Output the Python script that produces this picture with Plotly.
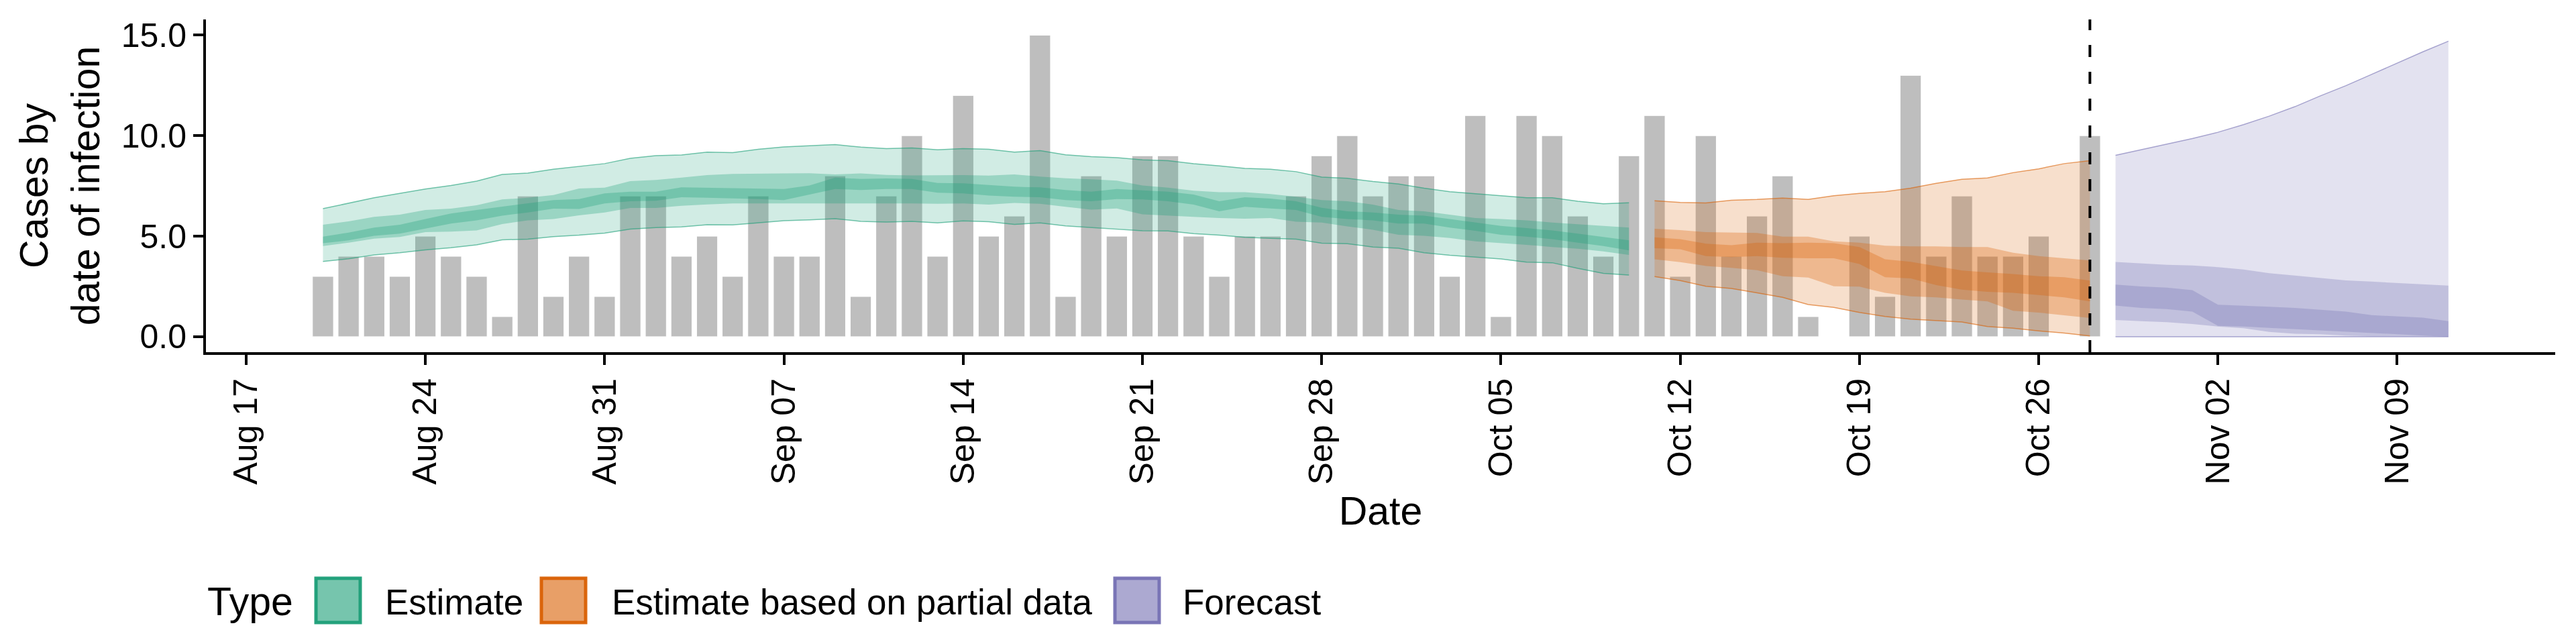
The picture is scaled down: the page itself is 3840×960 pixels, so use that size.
import pandas as pd
import plotly.graph_objects as go

# observed cases by date of infection (Aug 20 - Oct 28)
bar_dates = pd.date_range("2020-08-20", "2020-10-28", freq="D")
cases = [3, 4, 4, 3, 5, 4, 3, 1, 7, 2, 4, 2,
         7, 7, 4, 5, 3, 7, 4, 4, 8, 2, 7, 10, 4, 12, 5, 6, 15, 2,
         8, 5, 9, 9, 5, 3, 5, 5, 7, 9, 10, 7,
         8, 8, 3, 11, 1, 11, 10, 6, 4, 9, 11, 3, 10, 4, 6, 8, 1, 0,
         5, 2, 13, 4, 7, 4, 4, 5, 0, 10]

# Estimate (Aug 20 - Oct 10)
est_dates = pd.date_range("2020-08-20", "2020-10-10", freq="D")
est_hi90 = [6.37, 6.65, 6.91, 7.13, 7.35, 7.52, 7.74, 8.07, 8.14, 8.33, 8.46, 8.61, 8.87, 9.01, 9.04, 9.18,
            9.16, 9.32, 9.44, 9.50, 9.56, 9.43, 9.36, 9.39, 9.30, 9.36, 9.32, 9.18, 9.26, 9.05, 8.96, 8.91,
            8.80, 8.76, 8.61, 8.50, 8.37, 8.33, 8.21, 7.94, 7.88, 7.72, 7.60, 7.39, 7.21, 7.11, 7.02, 6.91,
            6.91, 6.74, 6.61, 6.66]
est_lo90 = [3.74, 3.88, 4.07, 4.18, 4.32, 4.43, 4.57, 4.82, 4.85, 4.98, 5.05, 5.15, 5.35, 5.43, 5.46, 5.57,
            5.56, 5.66, 5.77, 5.81, 5.87, 5.74, 5.70, 5.74, 5.66, 5.76, 5.72, 5.59, 5.66, 5.51, 5.43, 5.37,
            5.27, 5.26, 5.13, 5.05, 4.94, 4.89, 4.85, 4.65, 4.63, 4.46, 4.40, 4.18, 4.05, 3.96, 3.87, 3.71,
            3.68, 3.40, 3.15, 3.07]
est_hi50 = [5.57, 5.74, 5.96, 6.07, 6.30, 6.37, 6.54, 6.83, 6.91, 7.05, 7.37, 7.41, 7.74, 7.80, 7.91, 8.04,
            8.10, 8.10, 8.12, 8.13, 8.07, 8.12, 8.05, 8.02, 8.02, 8.04, 8.01, 8.07, 7.96, 7.88, 7.83, 7.76,
            7.52, 7.41, 7.26, 7.19, 7.19, 7.10, 6.96, 6.80, 6.74, 6.57, 6.30, 6.24, 6.07, 5.90, 5.85, 5.79,
            5.68, 5.60, 5.51, 5.43]
est_lo50 = [4.51, 4.68, 4.88, 4.96, 5.20, 5.23, 5.29, 5.60, 5.79, 5.85, 6.04, 6.18, 6.40, 6.40, 6.51, 6.58,
            6.63, 6.65, 6.63, 6.63, 6.63, 6.63, 6.63, 6.63, 6.61, 6.63, 6.57, 6.65, 6.61, 6.46, 6.32, 6.38,
            6.09, 6.02, 5.96, 5.90, 5.87, 5.90, 5.72, 5.68, 5.49, 5.32, 5.07, 5.02, 4.91, 4.74, 4.65, 4.57,
            4.46, 4.38, 4.24, 4.07]
est_hi20 = [4.98, 5.18, 5.43, 5.57, 5.85, 6.13, 6.30, 6.46, 6.63, 6.80, 6.85, 7.13, 7.21, 7.21, 7.43, 7.41,
            7.37, 7.35, 7.35, 7.52, 7.91, 7.85, 7.87, 7.85, 7.65, 7.63, 7.54, 7.46, 7.43, 7.30, 7.21, 7.35,
            7.28, 7.21, 7.07, 6.74, 6.94, 6.87, 6.74, 6.41, 6.24, 6.18, 6.07, 6.02, 5.85, 5.68, 5.51, 5.40,
            5.29, 5.13, 4.96, 4.79]
est_lo20 = [4.65, 4.79, 5.02, 5.13, 5.38, 5.63, 5.79, 6.02, 6.18, 6.37, 6.35, 6.63, 6.74, 6.76, 6.94, 6.91,
            6.87, 6.85, 6.80, 7.07, 7.35, 7.30, 7.35, 7.35, 7.16, 7.13, 7.02, 6.96, 6.94, 6.80, 6.74, 6.85,
            6.83, 6.74, 6.57, 6.24, 6.46, 6.38, 6.30, 5.96, 5.85, 5.79, 5.63, 5.63, 5.43, 5.27, 5.07, 4.98,
            4.85, 4.68, 4.51, 4.29]

# Estimate based on partial data (Oct 11 - Oct 28)
part_dates = pd.date_range("2020-10-11", "2020-10-28", freq="D")
part_hi90 = [6.76, 6.68, 6.65, 6.79, 6.83, 6.90, 6.83, 7.01, 7.13, 7.21, 7.39, 7.63, 7.83, 7.90, 8.16, 8.35, 8.61, 8.76]
part_lo90 = [2.99, 2.79, 2.51, 2.40, 2.18, 1.96, 1.60, 1.46, 1.21, 1.01, 0.87, 0.81, 0.73, 0.51, 0.42, 0.29, 0.18, 0.04]
part_hi50 = [5.37, 5.30, 5.20, 5.18, 5.16, 4.98, 4.98, 4.74, 4.68, 4.53, 4.49, 4.49, 4.46, 4.46, 4.18, 4.01, 3.90, 3.79]
part_lo50 = [3.85, 3.71, 3.52, 3.43, 3.31, 3.01, 2.94, 2.51, 2.49, 2.18, 2.01, 1.96, 1.85, 1.76, 1.29, 1.20, 1.07, 0.93]
part_hi20 = [4.94, 4.85, 4.63, 4.55, 4.68, 4.65, 4.68, 4.65, 4.46, 3.85, 3.73, 3.51, 3.29, 3.20, 3.12, 3.01, 2.96, 2.79]
part_lo20 = [4.40, 4.35, 4.01, 3.96, 4.01, 3.93, 3.90, 3.90, 3.62, 2.96, 2.90, 2.57, 2.34, 2.23, 2.18, 2.07, 1.96, 1.76]

# Forecast (Oct 29 - Nov 11)
fc_dates = pd.date_range("2020-10-29", "2020-11-11", freq="D")
fc_hi90 = [9.02, 9.30, 9.59, 9.86, 10.17, 10.55, 10.97, 11.44, 11.98, 12.49, 13.05, 13.62, 14.17, 14.70]
fc_lo90 = [0.0] * 14
fc_hi50 = [3.72, 3.64, 3.58, 3.54, 3.46, 3.34, 3.16, 3.04, 2.92, 2.80, 2.74, 2.68, 2.62, 2.54]
fc_lo50 = [0.83, 0.77, 0.72, 0.63, 0.51, 0.42, 0.24, 0.15, 0.12, 0.06, 0.02, 0.02, 0.02, 0.02]
fc_hi20 = [2.59, 2.50, 2.44, 2.32, 1.59, 1.55, 1.49, 1.43, 1.35, 1.25, 1.07, 1.01, 0.95, 0.77]
fc_lo20 = [1.55, 1.43, 1.37, 1.25, 0.54, 0.51, 0.44, 0.36, 0.30, 0.24, 0.18, 0.12, 0.06, 0.00]

types = ["Estimate", "Estimate based on partial data", "Forecast"]
colors = {"Estimate": (27, 158, 119),
          "Estimate based on partial data": (217, 95, 2),
          "Forecast": (117, 112, 179)}

FONT = "Liberation Sans, Arial, sans-serif"
DAY = 86400000


def rgba(c, a):
    return "rgba(%d,%d,%d,%s)" % (c[0], c[1], c[2], a)


def add_band(fig, dates, bands, col):
    d = list(dates)
    # bands: list of (lo, hi, alpha), outermost first
    for i, (lo, hi, a) in enumerate(bands):
        fig.add_trace(go.Scatter(x=d + d[::-1], y=list(hi) + list(lo)[::-1],
                                 fill="toself", fillcolor=rgba(col, a),
                                 mode="lines", line=dict(width=0),
                                 hoverinfo="skip", showlegend=False))
        if i == 0:
            for edge in (hi, lo):
                fig.add_trace(go.Scatter(x=d, y=edge, mode="lines",
                                         line=dict(color=rgba(col, 0.6), width=1.5),
                                         hoverinfo="skip", showlegend=False))


fig = go.Figure()

fig.add_trace(go.Bar(x=bar_dates, y=cases, width=0.82 * DAY,
                     marker=dict(color="#bebebe", line=dict(color="white", width=1)),
                     showlegend=False))

add_band(fig, est_dates, [(est_lo90, est_hi90, 0.2), (est_lo50, est_hi50, 0.3), (est_lo20, est_hi20, 0.3)],
         colors["Estimate"])
add_band(fig, part_dates, [(part_lo90, part_hi90, 0.2), (part_lo50, part_hi50, 0.3), (part_lo20, part_hi20, 0.3)],
         colors["Estimate based on partial data"])
add_band(fig, fc_dates, [(fc_lo90, fc_hi90, 0.2), (fc_lo50, fc_hi50, 0.3), (fc_lo20, fc_hi20, 0.3)],
         colors["Forecast"])

# page pixels of the panel; the html body adds an 8px offset
OFF = 8
L, R, T, B = 307, 3809, 29, 525
W, H = R - L, B - T


def px(x):
    return (x - L) / W


def py(y):
    return (B - y) / H


shapes = [dict(type="line", xref="x", yref="paper", x0="2020-10-28", x1="2020-10-28", y0=0, y1=1,
               line=dict(color="black", width=4, dash="18px,22px"))]
annotations = [dict(text="Type", x=px(307), y=py(897), xref="paper", yref="paper",
                    xanchor="left", yanchor="middle", showarrow=False,
                    font=dict(family=FONT, size=59, color="black"))]

key_left = [471, 807, 1662]
label_left = [572, 910, 1761]
for t, kx, lx in zip(types, key_left, label_left):
    c = colors[t]
    shapes.append(dict(type="rect", xref="paper", yref="paper",
                       x0=px(kx), x1=px(kx + 66), y0=py(928), y1=py(862),
                       fillcolor=rgba(c, 0.6), line=dict(color=rgba(c, 0.95), width=5)))
    annotations.append(dict(text=t, x=px(lx), y=py(897), xref="paper", yref="paper",
                            xanchor="left", yanchor="middle", showarrow=False,
                            font=dict(family=FONT, size=53, color="black")))

x_start = pd.Timestamp("2020-08-17") - pd.Timedelta(days=1.57)
x_end = pd.Timestamp("2020-08-17") + pd.Timedelta(days=90.17)

fig.update_layout(
    width=3840, height=960,
    margin=dict(l=L - OFF, r=3840 - R + OFF, t=T - OFF, b=960 - B + OFF),
    plot_bgcolor="white", paper_bgcolor="white",
    font=dict(family=FONT, color="black"),
    showlegend=False,
    shapes=shapes, annotations=annotations,
    xaxis=dict(type="date", range=[x_start, x_end], tick0="2020-08-17", dtick=7 * DAY,
               tickformat="%b %d", tickangle=-90, ticks="outside", ticklen=15, tickwidth=4,
               tickcolor="black", showline=True, linewidth=4, linecolor="black",
               showgrid=False, zeroline=False, automargin=False,
               tickfont=dict(family=FONT, size=50, color="black"),
               title=dict(text="Date", font=dict(family=FONT, size=59, color="black"), standoff=20)),
    yaxis=dict(range=[-0.77, 15.78], tickvals=[0, 5, 10, 15], tickformat=".1f",
               ticks="outside", ticklen=15, tickwidth=4, tickcolor="black",
               showline=True, linewidth=4, linecolor="black",
               showgrid=False, zeroline=False, automargin=False,
               tickfont=dict(family=FONT, size=50, color="black"),
               title=dict(text="Cases by<br>date of infection",
                          font=dict(family=FONT, size=59, color="black"), standoff=14)),
)

fig.write_html("out.html")
